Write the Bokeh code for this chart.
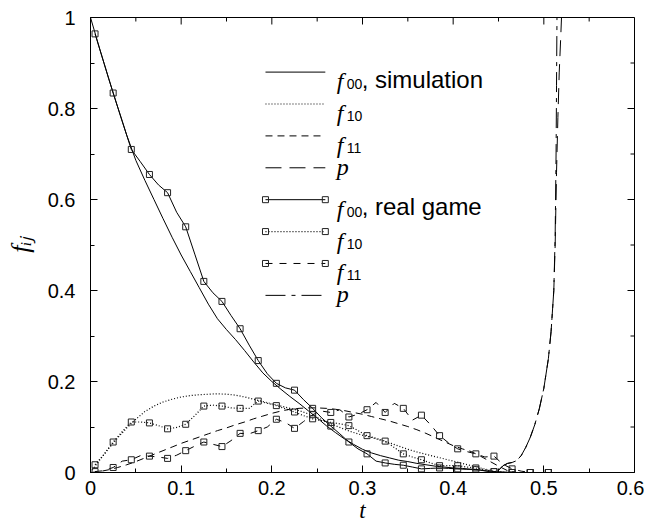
from bokeh.plotting import figure
from bokeh.models import Range1d, FixedTicker, Label
from bokeh.embed import file_html
from bokeh.resources import INLINE

# ---------------- data ----------------
t_sim = [0.00, 0.01, 0.02, 0.03, 0.04, 0.05, 0.06, 0.07, 0.08, 0.09,
         0.10, 0.11, 0.12, 0.13, 0.14, 0.15, 0.16, 0.17, 0.18, 0.19,
         0.20, 0.21, 0.22, 0.23, 0.24, 0.25, 0.26, 0.27, 0.28, 0.29,
         0.30, 0.31, 0.32, 0.33, 0.34, 0.35, 0.36, 0.37, 0.38, 0.39,
         0.40, 0.41, 0.42, 0.43, 0.44, 0.45, 0.46, 0.47]
f00_sim = [1.000, 0.932, 0.866, 0.803, 0.741, 0.686, 0.642, 0.600, 0.558, 0.517,
           0.478, 0.442, 0.406, 0.370, 0.338, 0.314, 0.292, 0.268, 0.243, 0.219,
           0.200, 0.183, 0.167, 0.152, 0.136, 0.120, 0.103, 0.088, 0.074, 0.062,
           0.051, 0.043, 0.037, 0.032, 0.027, 0.024, 0.020, 0.017, 0.014, 0.012,
           0.010, 0.009, 0.007, 0.005, 0.002, 0.000, 0.000, 0.000]
f10_sim = [0.000, 0.027, 0.053, 0.076, 0.098, 0.117, 0.134, 0.146, 0.155, 0.161,
           0.166, 0.169, 0.171, 0.172, 0.173, 0.172, 0.170, 0.166, 0.161, 0.156,
           0.151, 0.146, 0.141, 0.136, 0.129, 0.121, 0.112, 0.103, 0.095, 0.088,
           0.082, 0.077, 0.071, 0.065, 0.058, 0.051, 0.045, 0.040, 0.035, 0.030,
           0.025, 0.020, 0.015, 0.010, 0.005, 0.001, 0.000, 0.000]
f11_sim = [0.000, 0.002, 0.006, 0.011, 0.017, 0.024, 0.032, 0.040, 0.048, 0.056,
           0.064, 0.071, 0.078, 0.085, 0.092, 0.098, 0.105, 0.111, 0.118, 0.124,
           0.130, 0.135, 0.139, 0.141, 0.142, 0.142, 0.141, 0.139, 0.136, 0.132,
           0.128, 0.123, 0.118, 0.113, 0.107, 0.101, 0.094, 0.086, 0.077, 0.068,
           0.059, 0.052, 0.046, 0.036, 0.025, 0.014, 0.004, 0.000]

t_p_sim = [0.450, 0.455, 0.460, 0.465, 0.470, 0.475, 0.480, 0.485, 0.490, 0.495,
           0.500, 0.505, 0.508, 0.511, 0.5125, 0.514, 0.5155, 0.517, 0.5185, 0.5195, 0.5205]
p_sim = [0.005, 0.015, 0.020, 0.022, 0.026, 0.037, 0.055, 0.077, 0.105, 0.140,
         0.185, 0.250, 0.310, 0.400, 0.500, 0.660, 0.780, 0.880, 0.950, 1.000, 1.060]

t_real = [0.005, 0.015, 0.025, 0.035, 0.045, 0.055, 0.065, 0.075, 0.085, 0.095,
          0.105, 0.115, 0.125, 0.135, 0.145, 0.155, 0.165, 0.175, 0.185, 0.195,
          0.205, 0.215, 0.225, 0.235, 0.245, 0.255, 0.265, 0.275, 0.285, 0.295,
          0.305, 0.315, 0.325, 0.335, 0.345, 0.355, 0.365, 0.375, 0.385, 0.395,
          0.405, 0.415, 0.425, 0.435, 0.445, 0.455, 0.465, 0.475, 0.485, 0.495, 0.505]
f00_real = [0.964, 0.899, 0.834, 0.772, 0.710, 0.683, 0.655, 0.632, 0.615, 0.572,
            0.540, 0.480, 0.420, 0.395, 0.376, 0.345, 0.316, 0.280, 0.246, 0.217,
            0.196, 0.186, 0.181, 0.160, 0.141, 0.120, 0.102, 0.085, 0.067, 0.052,
            0.041, 0.025, 0.021, 0.018, 0.016, 0.012, 0.008, 0.009, 0.010, 0.009,
            0.008, 0.007, 0.007, 0.004, 0.002, 0.001, 0.000, 0.000, 0.000, 0.000, 0.000]
f10_real = [0.017, 0.040, 0.067, 0.090, 0.111, 0.111, 0.109, 0.103, 0.096, 0.099,
            0.106, 0.125, 0.146, 0.148, 0.146, 0.142, 0.141, 0.141, 0.157, 0.152,
            0.147, 0.140, 0.133, 0.125, 0.118, 0.114, 0.110, 0.107, 0.103, 0.092,
            0.081, 0.075, 0.069, 0.055, 0.041, 0.034, 0.028, 0.021, 0.015, 0.015,
            0.015, 0.012, 0.010, 0.006, 0.002, 0.001, 0.000, 0.000, 0.000, 0.000, 0.000]
f11_real = [0.002, 0.004, 0.011, 0.025, 0.028, 0.037, 0.036, 0.034, 0.031, 0.038,
            0.048, 0.058, 0.067, 0.062, 0.057, 0.070, 0.086, 0.085, 0.092, 0.100,
            0.117, 0.110, 0.097, 0.112, 0.127, 0.135, 0.132, 0.138, 0.122, 0.128,
            0.138, 0.154, 0.132, 0.152, 0.141, 0.115, 0.126, 0.105, 0.081, 0.065,
            0.052, 0.046, 0.041, 0.034, 0.036, 0.018, 0.008, 0.003, 0.000, 0.000, 0.000]

t_p_real = [0.450, 0.455, 0.460, 0.465, 0.470, 0.475, 0.480, 0.485, 0.490, 0.495,
            0.500, 0.505, 0.508, 0.511, 0.5125, 0.5135, 0.514, 0.5145, 0.5150]
p_real = [0.005, 0.015, 0.020, 0.022, 0.026, 0.037, 0.055, 0.077, 0.105, 0.140,
          0.185, 0.250, 0.310, 0.400, 0.520, 0.700, 0.850, 1.000, 1.060]

x_major_ticks = [0.0, 0.1, 0.2, 0.3, 0.4, 0.5, 0.6]
x_minor_ticks = [0.05, 0.15, 0.25, 0.35, 0.45, 0.55]
y_major_ticks = [0.0, 0.2, 0.4, 0.6, 0.8, 1.0]
y_minor_ticks = [0.1, 0.3, 0.5, 0.7, 0.9]
x_tick_labels = ["0", "0.1", "0.2", "0.3", "0.4", "0.5", "0.6"]
y_tick_labels = ["0", "0.2", "0.4", "0.6", "0.8", "1"]

# ---------------- figure ----------------
W, H = 644, 525
BL, BR, BT, BB = 90, 10, 17, 53
X0, X1, Y0, Y1 = 0.0, 0.6, 0.0, 1.0
p = figure(width=W, height=H, output_backend="svg", toolbar_location=None,
           x_range=Range1d(X0, X1), y_range=Range1d(Y0, Y1),
           min_border_left=BL, min_border_right=BR, min_border_top=BT, min_border_bottom=BB)
p.xgrid.visible = False
p.ygrid.visible = False
p.outline_line_color = "black"
p.outline_line_alpha = 1.0
p.outline_line_width = 1
p.background_fill_color = "white"
p.border_fill_color = "white"

p.xaxis.ticker = FixedTicker(ticks=x_major_ticks, minor_ticks=x_minor_ticks)
p.yaxis.ticker = FixedTicker(ticks=y_major_ticks, minor_ticks=y_minor_ticks)
p.xaxis.major_label_overrides = dict(zip(x_major_ticks, x_tick_labels))
p.yaxis.major_label_overrides = dict(zip(y_major_ticks, y_tick_labels))

MAJ, MIN = 7, 4
for ax in p.axis:
    ax.major_tick_in = MAJ
    ax.major_tick_out = 0
    ax.minor_tick_in = MIN
    ax.minor_tick_out = 0
    ax.axis_line_color = "black"
    ax.major_tick_line_color = "black"
    ax.minor_tick_line_color = "black"
    ax.major_label_text_font = "Liberation Sans"
    ax.major_label_text_font_size = "20px"
    ax.major_label_text_color = "black"
    ax.axis_label_text_font = "Liberation Serif"
    ax.axis_label_text_font_style = "italic"
    ax.axis_label_text_color = "black"

p.xaxis.major_label_standoff = 8
p.yaxis.major_label_standoff = 15
p.xaxis.axis_label = "t"
p.xaxis.axis_label_text_font_size = "23px"
p.xaxis.axis_label_standoff = 0
p.yaxis.axis_label = "f\u1d62\u2c7c"
p.yaxis.axis_label_text_font_size = "26px"
p.yaxis.axis_label_standoff = 10

# mirrored inward ticks on top and right edges
fw = W - BL - BR
fh = H - BT - BB
dx_maj = MAJ * (X1 - X0) / fw
dx_min = MIN * (X1 - X0) / fw
dy_maj = MAJ * (Y1 - Y0) / fh
dy_min = MIN * (Y1 - Y0) / fh
p.segment(x0=x_major_ticks, x1=x_major_ticks, y0=[Y1] * len(x_major_ticks),
          y1=[Y1 - dy_maj] * len(x_major_ticks), line_color="black", line_width=1)
p.segment(x0=x_minor_ticks, x1=x_minor_ticks, y0=[Y1] * len(x_minor_ticks),
          y1=[Y1 - dy_min] * len(x_minor_ticks), line_color="black", line_width=1)
p.segment(x0=[X1] * len(y_major_ticks), x1=[X1 - dx_maj] * len(y_major_ticks),
          y0=y_major_ticks, y1=y_major_ticks, line_color="black", line_width=1)
p.segment(x0=[X1] * len(y_minor_ticks), x1=[X1 - dx_min] * len(y_minor_ticks),
          y0=y_minor_ticks, y1=y_minor_ticks, line_color="black", line_width=1)

# styles
DOT = "1 2"
DASH = "7 5"
RDASH = "7 7"
LDASH = "16 8"
DASHDOT = "20 6 4 6"

# simulation curves
p.line(t_sim, f00_sim, line_color="black", line_width=1)
p.line(t_sim, f10_sim, line_color="black", line_width=1.2, line_dash=DOT)
p.line(t_sim, f11_sim, line_color="black", line_width=1, line_dash=DASH)
p.line(t_p_sim, p_sim, line_color="black", line_width=1, line_dash=LDASH)

# real game curves
p.line(t_real, f00_real, line_color="black", line_width=1)
p.line(t_real, f10_real, line_color="black", line_width=1.2, line_dash=DOT)
p.line(t_real, f11_real, line_color="black", line_width=1, line_dash=RDASH)
p.line(t_p_real, p_real, line_color="black", line_width=1, line_dash=DASHDOT)
for ys in (f00_real, f10_real, f11_real):
    p.scatter(t_real[::2], ys[::2], marker="square", size=6, fill_alpha=0,
              line_color="#222222", line_width=1)

# ---------------- legend (hand built) ----------------
LX0, LX1 = 0.193, 0.259
LTX = 0.2715
LY0 = 0.880
LDY = 0.0701
rows = [
    ("00", ", simulation", "solid", False),
    ("10", "", DOT, False),
    ("11", "", DASH, False),
    (None, "", LDASH, False),
    ("00", ", real game", "solid", True),
    ("10", "", DOT, True),
    ("11", "", RDASH, True),
    (None, "", DASHDOT, False),
]
for i, (sub, rest, dash, mk) in enumerate(rows):
    y = LY0 - i * LDY
    p.line([LX0, LX1], [y, y], line_color="black", line_width=1.2 if dash == DOT else 1,
           line_dash=dash)
    if mk:
        p.scatter([LX0, LX1], [y, y], marker="square", size=6, fill_alpha=0,
                  line_color="#222222", line_width=1)
    if sub is not None:
        p.add_layout(Label(x=LTX, y=y, y_offset=-9, text="f", text_font="Liberation Serif",
                           text_font_style="italic", text_font_size="24px",
                           text_baseline="alphabetic", text_color="black"))
        p.add_layout(Label(x=LTX, y=y, x_offset=10, y_offset=-12, text=sub,
                           text_font="Liberation Sans", text_font_size="14px",
                           text_baseline="alphabetic", text_color="black"))
    else:
        p.add_layout(Label(x=LTX, y=y, y_offset=1, text="p", text_font="Liberation Serif",
                           text_font_style="italic", text_font_size="24px",
                           text_baseline="alphabetic", text_color="black"))
    if rest:
        p.add_layout(Label(x=LTX, y=y, x_offset=25, y_offset=-7, text=rest,
                           text_font="Liberation Sans", text_font_size="24px",
                           text_baseline="alphabetic", text_color="black"))

open("out.html", "w").write(file_html(p, INLINE))
